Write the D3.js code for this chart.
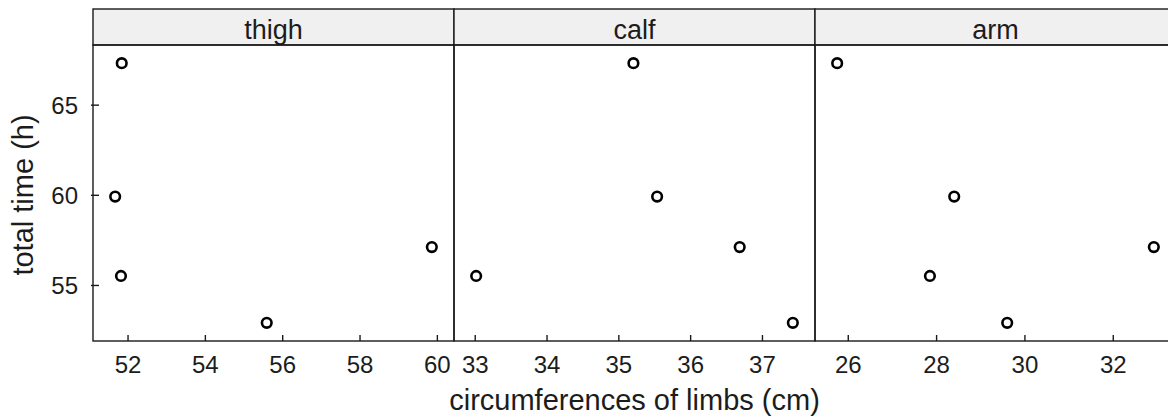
<!DOCTYPE html>
<html>
<head>
<meta charset="utf-8">
<script src="https://cdn.jsdelivr.net/npm/d3@7"></script>
<style>
  body { margin: 0; background: #fff; }
  text { font-family: "Liberation Sans", Arial, sans-serif; fill: #1c1c1c; }
</style>
</head>
<body>
<figure id="chart" style="margin:0"></figure>
<script>
// limb circumferences vs total time, one panel per limb
const panels = ["thigh", "calf", "arm"];
const totalTime = [67.3, 59.9, 55.5, 52.9, 57.1];
const thigh = [51.85, 51.68, 51.83, 55.6, 59.87];
const calf = [35.21, 35.54, 33.02, 37.43, 36.69];
const arm = [25.76, 28.41, 27.86, 29.61, 32.93];
const yTicks = [55, 60, 65];
const xTicks = {
  thigh: [52, 54, 56, 58, 60],
  calf: [33, 34, 35, 36, 37],
  arm: [26, 28, 30, 32]
};
const limbValues = { thigh, calf, arm };

const size = { width: 1168, height: 417, left: 93, top: 9, strip: 36, panelW: 361, bottom: 341 };
const ink = "#1a1a1a";

const svg = d3.select("figure#chart")
  .append("svg")
  .attr("width", size.width)
  .attr("height", size.height);

// lattice style padding: 7% either side of the data range
function padded(values) {
  const [lo, hi] = d3.extent(values);
  const pad = (hi - lo) * 0.07;
  return [lo - pad, hi + pad];
}

const plotTop = size.top + size.strip;
const y = d3.scaleLinear()
  .domain(padded(totalTime))
  .range([size.bottom, plotTop]);

panels.forEach((name, i) => {
  const x0 = size.left + i * size.panelW;
  const x = d3.scaleLinear()
    .domain(padded(limbValues[name]))
    .range([x0, x0 + size.panelW]);

  const g = svg.append("g").attr("class", "panel " + name);

  // strip
  g.append("rect")
    .attr("x", x0).attr("y", size.top)
    .attr("width", size.panelW).attr("height", size.strip)
    .attr("fill", "#f0f0f0")
    .attr("stroke", ink).attr("stroke-width", 1.4);
  g.append("text")
    .attr("x", x0 + size.panelW / 2).attr("y", size.top + 29.5)
    .attr("text-anchor", "middle")
    .style("font-size", "27px")
    .text(name);

  // panel box
  g.append("rect")
    .attr("x", x0).attr("y", plotTop)
    .attr("width", size.panelW).attr("height", size.bottom - plotTop)
    .attr("fill", "none")
    .attr("stroke", ink).attr("stroke-width", 1.4);

  // bottom axis, ticks point inward
  const xAxis = g.append("g")
    .attr("transform", "translate(0," + size.bottom + ")")
    .call(d3.axisBottom(x).tickValues(xTicks[name]).tickFormat(d3.format("d")).tickSize(-6).tickPadding(0));
  xAxis.select(".domain").remove();
  xAxis.selectAll(".tick line").attr("stroke", ink).attr("stroke-width", 1.4);
  xAxis.selectAll(".tick text")
    .attr("y", 32).attr("dy", null)
    .style("font-size", "24px").attr("fill", "#1c1c1c");

  // points
  g.selectAll("circle")
    .data(totalTime.map((t, k) => ({ t, v: limbValues[name][k] })))
    .enter().append("circle")
    .attr("cx", d => x(d.v))
    .attr("cy", d => y(d.t))
    .attr("r", 4.8)
    .attr("fill", "none")
    .attr("stroke", "#000")
    .attr("stroke-width", 2.6);
});

// left axis on first panel only
const yAxis = svg.append("g")
  .attr("transform", "translate(" + size.left + ",0)")
  .call(d3.axisLeft(y).tickValues(yTicks).tickSize(2).tickPadding(0));
yAxis.select(".domain").remove();
yAxis.selectAll(".tick line").attr("x2", 6).attr("x1", -2).attr("stroke", ink).attr("stroke-width", 1.4);
yAxis.selectAll(".tick text")
  .attr("x", -15).attr("dy", "0.36em")
  .style("font-size", "24px").attr("fill", "#1c1c1c");

// axis titles
svg.append("text")
  .attr("x", size.left + size.panelW * panels.length / 2).attr("y", 410)
  .attr("text-anchor", "middle")
  .style("font-size", "29px")
  .text("circumferences of limbs (cm)");

svg.append("text")
  .attr("transform", "translate(33,195) rotate(-90)")
  .attr("text-anchor", "middle")
  .style("font-size", "29px")
  .text("total time (h)");
</script>
</body>
</html>
